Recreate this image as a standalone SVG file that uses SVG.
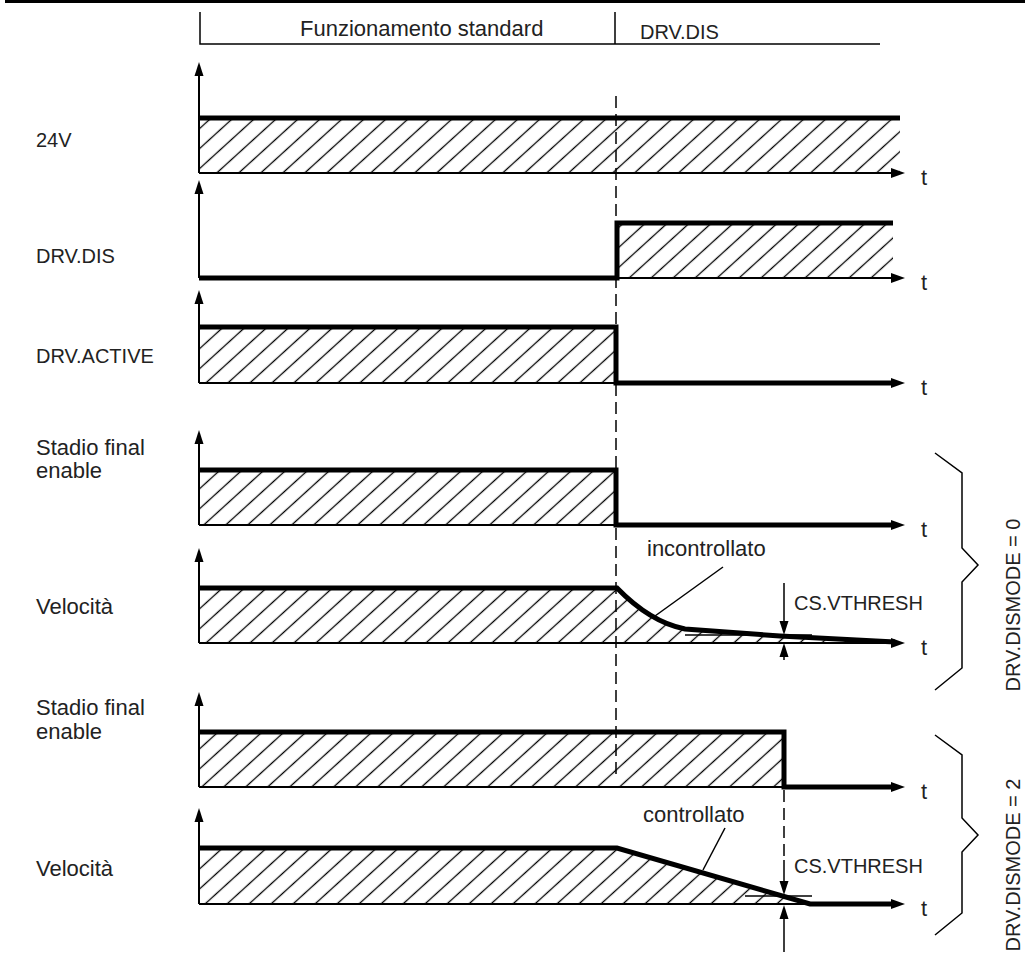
<svg xmlns="http://www.w3.org/2000/svg" xmlns:xlink="http://www.w3.org/1999/xlink" width="1025" height="955" viewBox="0 0 1025 955">
<style>
text{font-family:"Liberation Sans",Arial,sans-serif;font-size:20px;fill:#222}
.lc{font-size:22px}
.thick{fill:none;stroke:#000;stroke-width:5}
.axis{fill:none;stroke:#000;stroke-width:2}
.thin{fill:none;stroke:#000;stroke-width:1.5}
.dash{fill:none;stroke:#000;stroke-width:1.5;stroke-dasharray:12 6}
.hatch{fill:url(#hatch);stroke:none}
</style>
<defs>
<pattern id="hatch" patternUnits="userSpaceOnUse" width="10" height="14.8" patternTransform="rotate(-42.3)">
<line x1="-1" y1="7.4" x2="11" y2="7.4" stroke="#000" stroke-width="1.3"/>
</pattern>
<path id="arrR" d="M0,0 L-14,-5 L-14,5 Z" fill="#000"/>
<path id="arrU" d="M0,0 L-4.5,14 L4.5,14 Z" fill="#000"/>
<path id="arrD" d="M0,0 L-4.5,-14 L4.5,-14 Z" fill="#000"/>
</defs>
<rect x="5" y="0" width="1020" height="3" fill="#000"/>
<g id="header">
<path class="thin" d="M200,12 V44 H880 M615,12 V44"/>
<text class="lc" x="300" y="36">Funzionamento standard</text>
<text x="640" y="39">DRV.DIS</text>
</g>
<g id="plot-24v">
<rect class="hatch" x="199" y="118" width="701" height="55"/>
<path class="axis" d="M199,173 V74 M199,173 H893"/>
<use xlink:href="#arrU" x="199" y="62"/>
<use xlink:href="#arrR" x="905" y="173"/>
<path class="thick" d="M199,118 H900"/>
<text x="36" y="147">24V</text>
<text class="lc" x="921" y="185">t</text>
</g>
<g id="plot-drvdis">
<rect class="hatch" x="617" y="223" width="276" height="55"/>
<path class="axis" d="M199,278 V192 M199,278 H893"/>
<use xlink:href="#arrU" x="199" y="180"/>
<use xlink:href="#arrR" x="905" y="278"/>
<path class="thick" d="M199,278 H617 V223 H893"/>
<text x="36" y="263">DRV.DIS</text>
<text class="lc" x="921" y="290">t</text>
</g>
<g id="plot-drvactive">
<rect class="hatch" x="199" y="327" width="417" height="56"/>
<path class="axis" d="M199,383 V302 M199,383 H616"/>
<use xlink:href="#arrU" x="199" y="290"/>
<use xlink:href="#arrR" x="905" y="383"/>
<path class="thick" d="M199,327 H616 V383 H893"/>
<text x="36" y="363">DRV.ACTIVE</text>
<text class="lc" x="921" y="395">t</text>
</g>
<g id="plot-stadio0">
<rect class="hatch" x="199" y="470" width="417" height="55"/>
<path class="axis" d="M199,525 V442 M199,525 H616"/>
<use xlink:href="#arrU" x="199" y="430"/>
<use xlink:href="#arrR" x="905" y="525"/>
<path class="thick" d="M199,470 H616 V525 H893"/>
<text class="lc" x="36" y="455">Stadio final</text>
<text class="lc" x="36" y="478">enable</text>
<text class="lc" x="921" y="537">t</text>
</g>
<g id="plot-velocita0">
<path class="hatch" d="M199,643 V588 H617 Q650,622 685,629 L780,636 L895,641 V643 Z"/>
<path class="axis" d="M199,643 V560 M199,643 H893"/>
<use xlink:href="#arrU" x="199" y="548"/>
<use xlink:href="#arrR" x="905" y="643"/>
<path class="thick" d="M199,588 H617 Q650,622 685,629 L780,636 L895,642"/>
<path class="thin" d="M685,635 H812"/>
<path class="thin" d="M723,567 L655,616"/>
<path class="thin" d="M784,583 V622 M784,657 V660"/>
<use xlink:href="#arrD" x="784" y="635"/>
<use xlink:href="#arrU" x="784" y="643"/>
<text class="lc" x="36" y="614">Velocità</text>
<text class="lc" x="647" y="556">incontrollato</text>
<text x="794" y="610">CS.VTHRESH</text>
<text class="lc" x="921" y="655">t</text>
</g>
<g id="plot-stadio2">
<rect class="hatch" x="199" y="732" width="585" height="55"/>
<path class="axis" d="M199,787 V704 M199,787 H784"/>
<use xlink:href="#arrU" x="199" y="692"/>
<use xlink:href="#arrR" x="905" y="787"/>
<path class="thick" d="M199,732 H784 V787 H893"/>
<text class="lc" x="36" y="715">Stadio final</text>
<text class="lc" x="36" y="739">enable</text>
<text class="lc" x="921" y="799">t</text>
</g>
<g id="plot-velocita2">
<path class="hatch" d="M199,904 V848 H617 L810,904 Z"/>
<path class="axis" d="M199,904 V820 M199,904 H893"/>
<use xlink:href="#arrU" x="199" y="808"/>
<use xlink:href="#arrR" x="905" y="904"/>
<path class="thick" d="M199,848 H617 L810,904 H893"/>
<path class="thin" d="M745,896 H812"/>
<path class="thin" d="M725,828 L703,870"/>
<path class="thin" d="M784,860 V882 M784,919 V952"/>
<use xlink:href="#arrD" x="784" y="895"/>
<use xlink:href="#arrU" x="784" y="905"/>
<text class="lc" x="36" y="876">Velocità</text>
<text class="lc" x="643" y="822">controllato</text>
<text x="794" y="873">CS.VTHRESH</text>
<text class="lc" x="921" y="916">t</text>
</g>
<g id="connectors">
<path class="dash" d="M616,96 V775"/>
<path class="dash" d="M784,790 V860"/>
</g>
<g id="brace-0">
<path class="thin" d="M935,453 L962,473 V548 L978,565 L962,582 V668 L935,690"/>
<text transform="translate(1020,605) rotate(-90)" text-anchor="middle">DRV.DISMODE = 0</text>
</g>
<g id="brace-2">
<path class="thin" d="M935,735 L962,755 V818 L978,835 L962,852 V913 L935,935"/>
<text transform="translate(1020,865) rotate(-90)" text-anchor="middle">DRV.DISMODE = 2</text>
</g>
</svg>
